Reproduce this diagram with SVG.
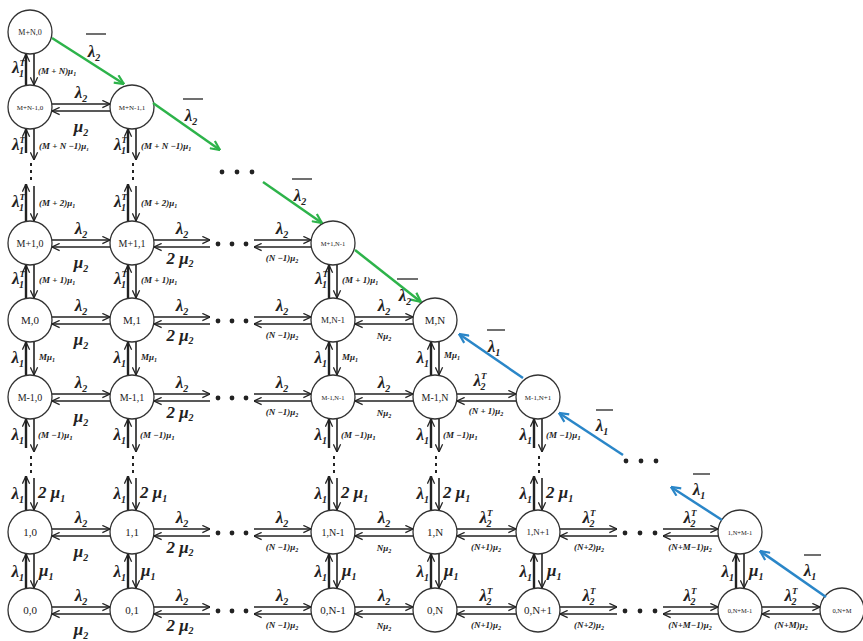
<svg xmlns="http://www.w3.org/2000/svg" width="863" height="641" viewBox="0 0 863 641">
<defs>
<marker id="ah" viewBox="0 0 10 10" refX="9.5" refY="5" markerWidth="9" markerHeight="9" orient="auto" markerUnits="userSpaceOnUse"><path d="M1,1 L9.5,5 L1,9" fill="none" stroke="#222" stroke-width="1.4"/></marker>
<marker id="ag" viewBox="0 0 10 10" refX="9.5" refY="5" markerWidth="11" markerHeight="11" orient="auto" markerUnits="userSpaceOnUse"><path d="M1,1 L9.5,5 L1,9" fill="none" stroke="#2db34a" stroke-width="2"/></marker>
<marker id="ab" viewBox="0 0 10 10" refX="9.5" refY="5" markerWidth="11" markerHeight="11" orient="auto" markerUnits="userSpaceOnUse"><path d="M1,1 L9.5,5 L1,9" fill="none" stroke="#2a86c8" stroke-width="2"/></marker>
</defs>
<style>
.n circle{fill:#fff;stroke:#333;stroke-width:1.3}
.n text{font-family:"Liberation Serif",serif;fill:#222;text-anchor:middle}
.c line{stroke:#222;stroke-width:1.6;marker-end:url(#ah)}
.c line.u{stroke-width:2.4}
.g{stroke:#2db34a;stroke-width:2.5;marker-end:url(#ag)}
.b{stroke:#2a86c8;stroke-width:2.5;marker-end:url(#ab)}
.bar{stroke:#222;stroke-width:1.3}
.t{font-family:"Liberation Serif",serif;font-style:italic;font-weight:bold;fill:#222;font-size:17px;text-anchor:middle}
.t.e{text-anchor:end}
.t.st{text-anchor:start}
.s{font-family:"Liberation Serif",serif;font-style:italic;font-weight:bold;fill:#222;font-size:9px;text-anchor:middle}
.s.st{text-anchor:start}
.sb{font-size:10px}
.sp{font-size:9px}
.d{fill:#222}
</style>

<g id="n_MN_0" class="n"><circle cx="30" cy="32" r="22"/><text x="30" y="35" font-size="8">M+N,0</text></g>
<g id="n_MN1_0" class="n"><circle cx="30" cy="107" r="22"/><text x="30" y="110" font-size="7">M+N-1,0</text></g>
<g id="n_MN1_1" class="n"><circle cx="132" cy="107" r="22"/><text x="132" y="110" font-size="7">M+N-1,1</text></g>
<g id="n_M1_0" class="n"><circle cx="30" cy="243" r="22"/><text x="30" y="247" font-size="10">M+1,0</text></g>
<g id="n_M1_1" class="n"><circle cx="132" cy="243" r="22"/><text x="132" y="247" font-size="10">M+1,1</text></g>
<g id="n_M1_N1" class="n"><circle cx="333" cy="243" r="22"/><text x="333" y="246" font-size="6.5">M+1,N-1</text></g>
<g id="n_M_0" class="n"><circle cx="30" cy="320" r="22"/><text x="30" y="324" font-size="11">M,0</text></g>
<g id="n_M_1" class="n"><circle cx="132" cy="320" r="22"/><text x="132" y="324" font-size="11">M,1</text></g>
<g id="n_M_N1" class="n"><circle cx="333" cy="320" r="22"/><text x="333" y="323" font-size="9">M,N-1</text></g>
<g id="n_M_N" class="n"><circle cx="435" cy="320" r="22"/><text x="435" y="324" font-size="11">M,N</text></g>
<g id="n_Mm1_0" class="n"><circle cx="30" cy="397" r="22"/><text x="30" y="401" font-size="10">M-1,0</text></g>
<g id="n_Mm1_1" class="n"><circle cx="132" cy="397" r="22"/><text x="132" y="401" font-size="10">M-1,1</text></g>
<g id="n_Mm1_N1" class="n"><circle cx="333" cy="397" r="22"/><text x="333" y="400" font-size="6.5">M-1,N-1</text></g>
<g id="n_Mm1_N" class="n"><circle cx="435" cy="397" r="22"/><text x="435" y="401" font-size="10">M-1,N</text></g>
<g id="n_Mm1_Np1" class="n"><circle cx="538" cy="397" r="22"/><text x="538" y="400" font-size="7">M-1,N+1</text></g>
<g id="n_1_0" class="n"><circle cx="30" cy="532" r="22"/><text x="30" y="536" font-size="11">1,0</text></g>
<g id="n_1_1" class="n"><circle cx="132" cy="532" r="22"/><text x="132" y="536" font-size="11">1,1</text></g>
<g id="n_1_N1" class="n"><circle cx="333" cy="532" r="22"/><text x="333" y="536" font-size="10">1,N-1</text></g>
<g id="n_1_N" class="n"><circle cx="435" cy="532" r="22"/><text x="435" y="536" font-size="11">1,N</text></g>
<g id="n_1_Np1" class="n"><circle cx="538" cy="532" r="22"/><text x="538" y="535" font-size="9">1,N+1</text></g>
<g id="n_1_NM1" class="n"><circle cx="740" cy="532" r="22"/><text x="740" y="535" font-size="6.5">1,N+M-1</text></g>
<g id="n_0_0" class="n"><circle cx="30" cy="610" r="22"/><text x="30" y="614" font-size="11">0,0</text></g>
<g id="n_0_1" class="n"><circle cx="132" cy="610" r="22"/><text x="132" y="614" font-size="11">0,1</text></g>
<g id="n_0_N1" class="n"><circle cx="333" cy="610" r="22"/><text x="333" y="614" font-size="11">0,N-1</text></g>
<g id="n_0_N" class="n"><circle cx="435" cy="610" r="22"/><text x="435" y="614" font-size="11">0,N</text></g>
<g id="n_0_Np1" class="n"><circle cx="538" cy="610" r="22"/><text x="538" y="614" font-size="11">0,N+1</text></g>
<g id="n_0_NM1" class="n"><circle cx="740" cy="610" r="22"/><text x="740" y="613" font-size="6.5">0,N+M-1</text></g>
<g id="n_0_NM" class="n"><circle cx="842" cy="610" r="22"/><text x="842" y="613" font-size="6.5">0,N+M</text></g>

<g id="connectors">
<g class="c">
<line x1="52" y1="104" x2="110" y2="104"/><line x1="110" y1="111" x2="52" y2="111"/>
<line x1="52" y1="240" x2="110" y2="240"/><line x1="110" y1="247" x2="52" y2="247"/>
<line x1="154" y1="240" x2="210" y2="240"/><line x1="210" y1="247" x2="154" y2="247"/>
<line x1="254" y1="240" x2="311" y2="240"/><line x1="311" y1="247" x2="254" y2="247"/>
<line x1="52" y1="317" x2="110" y2="317"/><line x1="110" y1="324" x2="52" y2="324"/>
<line x1="154" y1="317" x2="210" y2="317"/><line x1="210" y1="324" x2="154" y2="324"/>
<line x1="254" y1="317" x2="311" y2="317"/><line x1="311" y1="324" x2="254" y2="324"/>
<line x1="355" y1="317" x2="413" y2="317"/><line x1="413" y1="324" x2="355" y2="324"/>
<line x1="52" y1="394" x2="110" y2="394"/><line x1="110" y1="401" x2="52" y2="401"/>
<line x1="154" y1="394" x2="210" y2="394"/><line x1="210" y1="401" x2="154" y2="401"/>
<line x1="254" y1="394" x2="311" y2="394"/><line x1="311" y1="401" x2="254" y2="401"/>
<line x1="355" y1="394" x2="413" y2="394"/><line x1="413" y1="401" x2="355" y2="401"/>
<line x1="457" y1="394" x2="516" y2="394"/><line x1="516" y1="401" x2="457" y2="401"/>
<line x1="52" y1="529" x2="110" y2="529"/><line x1="110" y1="536" x2="52" y2="536"/>
<line x1="154" y1="529" x2="210" y2="529"/><line x1="210" y1="536" x2="154" y2="536"/>
<line x1="254" y1="529" x2="311" y2="529"/><line x1="311" y1="536" x2="254" y2="536"/>
<line x1="355" y1="529" x2="413" y2="529"/><line x1="413" y1="536" x2="355" y2="536"/>
<line x1="457" y1="529" x2="516" y2="529"/><line x1="516" y1="536" x2="457" y2="536"/>
<line x1="560" y1="529" x2="617" y2="529"/><line x1="617" y1="536" x2="560" y2="536"/>
<line x1="663" y1="529" x2="718" y2="529"/><line x1="718" y1="536" x2="663" y2="536"/>
<line x1="52" y1="607" x2="110" y2="607"/><line x1="110" y1="614" x2="52" y2="614"/>
<line x1="154" y1="607" x2="210" y2="607"/><line x1="210" y1="614" x2="154" y2="614"/>
<line x1="254" y1="607" x2="311" y2="607"/><line x1="311" y1="614" x2="254" y2="614"/>
<line x1="355" y1="607" x2="413" y2="607"/><line x1="413" y1="614" x2="355" y2="614"/>
<line x1="457" y1="607" x2="516" y2="607"/><line x1="516" y1="614" x2="457" y2="614"/>
<line x1="560" y1="607" x2="617" y2="607"/><line x1="617" y1="614" x2="560" y2="614"/>
<line x1="663" y1="607" x2="718" y2="607"/><line x1="718" y1="614" x2="663" y2="614"/>
<line x1="762" y1="607" x2="820" y2="607"/><line x1="820" y1="614" x2="762" y2="614"/>

<line class="u" x1="26" y1="85" x2="26" y2="54"/><line x1="34" y1="54" x2="34" y2="85"/>
<line class="u" x1="26" y1="153" x2="26" y2="129"/><line x1="34" y1="129" x2="34" y2="160"/>
<line class="u" x1="128" y1="153" x2="128" y2="129"/><line x1="136" y1="129" x2="136" y2="160"/>
<line class="u" x1="26" y1="221" x2="26" y2="184"/><line x1="34" y1="186" x2="34" y2="221"/>
<line class="u" x1="128" y1="221" x2="128" y2="184"/><line x1="136" y1="186" x2="136" y2="221"/>
<line class="u" x1="26" y1="298" x2="26" y2="265"/><line x1="34" y1="265" x2="34" y2="298"/>
<line class="u" x1="128" y1="298" x2="128" y2="265"/><line x1="136" y1="265" x2="136" y2="298"/>
<line class="u" x1="329" y1="298" x2="329" y2="265"/><line x1="337" y1="265" x2="337" y2="298"/>
<line class="u" x1="26" y1="375" x2="26" y2="342"/><line x1="34" y1="342" x2="34" y2="375"/>
<line class="u" x1="128" y1="375" x2="128" y2="342"/><line x1="136" y1="342" x2="136" y2="375"/>
<line class="u" x1="329" y1="375" x2="329" y2="342"/><line x1="337" y1="342" x2="337" y2="375"/>
<line class="u" x1="431" y1="375" x2="431" y2="342"/><line x1="439" y1="342" x2="439" y2="375"/>
<line class="u" x1="26" y1="448" x2="26" y2="419"/><line x1="34" y1="419" x2="34" y2="452"/>
<line class="u" x1="128" y1="448" x2="128" y2="419"/><line x1="136" y1="419" x2="136" y2="452"/>
<line class="u" x1="329" y1="448" x2="329" y2="419"/><line x1="337" y1="419" x2="337" y2="452"/>
<line class="u" x1="431" y1="448" x2="431" y2="419"/><line x1="439" y1="419" x2="439" y2="452"/>
<line class="u" x1="534" y1="448" x2="534" y2="419"/><line x1="542" y1="419" x2="542" y2="452"/>
<line class="u" x1="26" y1="510" x2="26" y2="476"/><line x1="34" y1="478" x2="34" y2="510"/>
<line class="u" x1="128" y1="510" x2="128" y2="476"/><line x1="136" y1="478" x2="136" y2="510"/>
<line class="u" x1="329" y1="510" x2="329" y2="476"/><line x1="337" y1="478" x2="337" y2="510"/>
<line class="u" x1="431" y1="510" x2="431" y2="476"/><line x1="439" y1="478" x2="439" y2="510"/>
<line class="u" x1="534" y1="510" x2="534" y2="476"/><line x1="542" y1="478" x2="542" y2="510"/>
<line class="u" x1="26" y1="588" x2="26" y2="554"/><line x1="34" y1="554" x2="34" y2="588"/>
<line class="u" x1="128" y1="588" x2="128" y2="554"/><line x1="136" y1="554" x2="136" y2="588"/>
<line class="u" x1="329" y1="588" x2="329" y2="554"/><line x1="337" y1="554" x2="337" y2="588"/>
<line class="u" x1="431" y1="588" x2="431" y2="554"/><line x1="439" y1="554" x2="439" y2="588"/>
<line class="u" x1="534" y1="588" x2="534" y2="554"/><line x1="542" y1="554" x2="542" y2="588"/>
<line class="u" x1="736" y1="588" x2="736" y2="554"/><line x1="744" y1="554" x2="744" y2="588"/>
</g>

<line class="g" x1="52" y1="38" x2="124" y2="84"/>
<line class="g" x1="153" y1="103" x2="220" y2="150"/>
<line class="g" x1="263" y1="182" x2="322" y2="223"/>
<line class="g" x1="355" y1="250" x2="421" y2="302"/>
<line class="b" x1="523" y1="378" x2="459" y2="334"/>
<line class="b" x1="623" y1="455" x2="559" y2="413"/>
<line class="b" x1="722" y1="520" x2="671" y2="487"/>
<line class="b" x1="826" y1="597" x2="760" y2="551"/>

<g class="d">
<circle cx="222" cy="172" r="2.4"/><circle cx="237" cy="172" r="2.4"/><circle cx="252" cy="172" r="2.4"/>
<circle cx="218" cy="244" r="2.4"/><circle cx="232" cy="244" r="2.4"/><circle cx="246" cy="244" r="2.4"/>
<circle cx="218" cy="321" r="2.4"/><circle cx="232" cy="321" r="2.4"/><circle cx="246" cy="321" r="2.4"/>
<circle cx="218" cy="398" r="2.4"/><circle cx="232" cy="398" r="2.4"/><circle cx="246" cy="398" r="2.4"/>
<circle cx="218" cy="533" r="2.4"/><circle cx="232" cy="533" r="2.4"/><circle cx="246" cy="533" r="2.4"/>
<circle cx="218" cy="611" r="2.4"/><circle cx="232" cy="611" r="2.4"/><circle cx="246" cy="611" r="2.4"/>
<circle cx="626" cy="461" r="2.4"/><circle cx="641" cy="461" r="2.4"/><circle cx="656" cy="461" r="2.4"/>
<circle cx="625" cy="533" r="2.4"/><circle cx="640" cy="533" r="2.4"/><circle cx="655" cy="533" r="2.4"/>
<circle cx="625" cy="611" r="2.4"/><circle cx="640" cy="611" r="2.4"/><circle cx="655" cy="611" r="2.4"/>
<rect x="30" y="163" width="2" height="3"/><rect x="30" y="170" width="2" height="3"/><rect x="30" y="177" width="2" height="3"/>
<rect x="132" y="163" width="2" height="3"/><rect x="132" y="170" width="2" height="3"/><rect x="132" y="177" width="2" height="3"/>
<rect x="30" y="456" width="2" height="3"/><rect x="30" y="463" width="2" height="3"/><rect x="30" y="470" width="2" height="3"/>
<rect x="132" y="456" width="2" height="3"/><rect x="132" y="463" width="2" height="3"/><rect x="132" y="470" width="2" height="3"/>
<rect x="333" y="456" width="2" height="3"/><rect x="333" y="463" width="2" height="3"/><rect x="333" y="470" width="2" height="3"/>
<rect x="435" y="456" width="2" height="3"/><rect x="435" y="463" width="2" height="3"/><rect x="435" y="470" width="2" height="3"/>
<rect x="538" y="456" width="2" height="3"/><rect x="538" y="463" width="2" height="3"/><rect x="538" y="470" width="2" height="3"/>
</g>
</g>

<g id="labels">
<line class="bar" x1="86" y1="34" x2="106" y2="34"/><text class="t" x="94" y="57">λ<tspan class="sb" dy="4">2</tspan></text>
<line class="bar" x1="183" y1="99" x2="203" y2="99"/><text class="t" x="191" y="121">λ<tspan class="sb" dy="4">2</tspan></text>
<line class="bar" x1="292" y1="179" x2="312" y2="179"/><text class="t" x="300" y="201">λ<tspan class="sb" dy="4">2</tspan></text>
<line class="bar" x1="397" y1="279" x2="418" y2="279"/><text class="t" x="405" y="301">λ<tspan class="sb" dy="4">2</tspan></text>
<line class="bar" x1="487" y1="330" x2="505" y2="330"/><text class="t" x="494" y="352">λ<tspan class="sb" dy="4">1</tspan></text>
<line class="bar" x1="596" y1="410" x2="613" y2="410"/><text class="t" x="602" y="431">λ<tspan class="sb" dy="4">1</tspan></text>
<line class="bar" x1="693" y1="474" x2="710" y2="474"/><text class="t" x="699" y="495">λ<tspan class="sb" dy="4">1</tspan></text>
<line class="bar" x1="804" y1="555" x2="821" y2="555"/><text class="t" x="810" y="576">λ<tspan class="sb" dy="4">1</tspan></text>

<text class="t" x="81" y="98">λ<tspan class="sb" dy="4">2</tspan></text><text class="t" x="81" y="132">μ<tspan class="sb" dy="4">2</tspan></text>

<text class="t" x="81" y="234">λ<tspan class="sb" dy="4">2</tspan></text><text class="t" x="81" y="268">μ<tspan class="sb" dy="4">2</tspan></text>
<text class="t" x="182" y="234">λ<tspan class="sb" dy="4">2</tspan></text><text class="t" x="180" y="264" font-size="15">2 μ<tspan class="sb" dy="3">2</tspan></text>
<text class="t" x="282" y="234">λ<tspan class="sb" dy="4">2</tspan></text><text class="s" x="282" y="261">(N −1)μ<tspan font-size="6" dy="2">2</tspan></text>

<text class="t" x="81" y="311">λ<tspan class="sb" dy="4">2</tspan></text><text class="t" x="81" y="345">μ<tspan class="sb" dy="4">2</tspan></text>
<text class="t" x="182" y="311">λ<tspan class="sb" dy="4">2</tspan></text><text class="t" x="180" y="341" font-size="15">2 μ<tspan class="sb" dy="3">2</tspan></text>
<text class="t" x="282" y="311">λ<tspan class="sb" dy="4">2</tspan></text><text class="s" x="282" y="338">(N −1)μ<tspan font-size="6" dy="2">2</tspan></text>
<text class="t" x="384" y="311">λ<tspan class="sb" dy="4">2</tspan></text><text class="s" x="384" y="339">Nμ<tspan font-size="6" dy="2">2</tspan></text>

<text class="t" x="81" y="388">λ<tspan class="sb" dy="4">2</tspan></text><text class="t" x="81" y="422">μ<tspan class="sb" dy="4">2</tspan></text>
<text class="t" x="182" y="388">λ<tspan class="sb" dy="4">2</tspan></text><text class="t" x="180" y="418" font-size="15">2 μ<tspan class="sb" dy="3">2</tspan></text>
<text class="t" x="282" y="388">λ<tspan class="sb" dy="4">2</tspan></text><text class="s" x="282" y="415">(N −1)μ<tspan font-size="6" dy="2">2</tspan></text>
<text class="t" x="384" y="388">λ<tspan class="sb" dy="4">2</tspan></text><text class="s" x="384" y="416">Nμ<tspan font-size="6" dy="2">2</tspan></text>
<text class="t" x="480" y="386">λ<tspan class="sp" dy="-7">T</tspan><tspan class="sb" dx="-6" dy="11">2</tspan></text><text class="s" x="486" y="414" font-size="8">(N + 1)μ<tspan font-size="6" dy="2">2</tspan></text>

<text class="t" x="81" y="523">λ<tspan class="sb" dy="4">2</tspan></text><text class="t" x="81" y="557">μ<tspan class="sb" dy="4">2</tspan></text>
<text class="t" x="182" y="523">λ<tspan class="sb" dy="4">2</tspan></text><text class="t" x="180" y="553" font-size="15">2 μ<tspan class="sb" dy="3">2</tspan></text>
<text class="t" x="282" y="523">λ<tspan class="sb" dy="4">2</tspan></text><text class="s" x="282" y="550">(N −1)μ<tspan font-size="6" dy="2">2</tspan></text>
<text class="t" x="384" y="523">λ<tspan class="sb" dy="4">2</tspan></text><text class="s" x="384" y="551">Nμ<tspan font-size="6" dy="2">2</tspan></text>
<text class="t" x="486" y="523">λ<tspan class="sp" dy="-7">T</tspan><tspan class="sb" dx="-6" dy="11">2</tspan></text><text class="s" x="486" y="550">(N+1)μ<tspan font-size="6" dy="2">2</tspan></text>
<text class="t" x="589" y="523">λ<tspan class="sp" dy="-7">T</tspan><tspan class="sb" dx="-6" dy="11">2</tspan></text><text class="s" x="589" y="550">(N+2)μ<tspan font-size="6" dy="2">2</tspan></text>
<text class="t" x="690" y="523">λ<tspan class="sp" dy="-7">T</tspan><tspan class="sb" dx="-6" dy="11">2</tspan></text><text class="s" x="690" y="550" font-size="8">(N+M−1)μ<tspan font-size="6" dy="2">2</tspan></text>

<text class="t" x="81" y="601">λ<tspan class="sb" dy="4">2</tspan></text><text class="t" x="81" y="635">μ<tspan class="sb" dy="4">2</tspan></text>
<text class="t" x="182" y="601">λ<tspan class="sb" dy="4">2</tspan></text><text class="t" x="180" y="631" font-size="15">2 μ<tspan class="sb" dy="3">2</tspan></text>
<text class="t" x="282" y="601">λ<tspan class="sb" dy="4">2</tspan></text><text class="s" x="282" y="628">(N −1)μ<tspan font-size="6" dy="2">2</tspan></text>
<text class="t" x="384" y="601">λ<tspan class="sb" dy="4">2</tspan></text><text class="s" x="384" y="629">Nμ<tspan font-size="6" dy="2">2</tspan></text>
<text class="t" x="486" y="601">λ<tspan class="sp" dy="-7">T</tspan><tspan class="sb" dx="-6" dy="11">2</tspan></text><text class="s" x="486" y="628">(N+1)μ<tspan font-size="6" dy="2">2</tspan></text>
<text class="t" x="589" y="601">λ<tspan class="sp" dy="-7">T</tspan><tspan class="sb" dx="-6" dy="11">2</tspan></text><text class="s" x="589" y="628">(N+2)μ<tspan font-size="6" dy="2">2</tspan></text>
<text class="t" x="690" y="601">λ<tspan class="sp" dy="-7">T</tspan><tspan class="sb" dx="-6" dy="11">2</tspan></text><text class="s" x="690" y="628" font-size="8">(N+M−1)μ<tspan font-size="6" dy="2">2</tspan></text>
<text class="t" x="791" y="601">λ<tspan class="sp" dy="-7">T</tspan><tspan class="sb" dx="-6" dy="11">2</tspan></text><text class="s" x="791" y="628" font-size="8">(N+M)μ<tspan font-size="6" dy="2">2</tspan></text>

<text class="t e" x="25" y="73">λ<tspan class="sp" dy="-7">T</tspan><tspan class="sb" dx="-6" dy="11">1</tspan></text><text class="s st" x="38" y="74">(M + N)μ<tspan font-size="6" dy="2">1</tspan></text>

<text class="t e" x="25" y="150">λ<tspan class="sp" dy="-7">T</tspan><tspan class="sb" dx="-6" dy="11">1</tspan></text><text class="s st" x="39" y="149" font-size="7">(M + N −1)μ<tspan font-size="5" dy="2">1</tspan></text>
<text class="t e" x="127" y="150">λ<tspan class="sp" dy="-7">T</tspan><tspan class="sb" dx="-6" dy="11">1</tspan></text><text class="s st" x="141" y="149">(M + N −1)μ<tspan font-size="6" dy="2">1</tspan></text>

<text class="t e" x="25" y="207">λ<tspan class="sp" dy="-7">T</tspan><tspan class="sb" dx="-6" dy="11">1</tspan></text><text class="s st" x="39" y="206">(M + 2)μ<tspan font-size="6" dy="2">1</tspan></text>
<text class="t e" x="127" y="207">λ<tspan class="sp" dy="-7">T</tspan><tspan class="sb" dx="-6" dy="11">1</tspan></text><text class="s st" x="141" y="206">(M + 2)μ<tspan font-size="6" dy="2">1</tspan></text>

<text class="t e" x="25" y="284">λ<tspan class="sp" dy="-7">T</tspan><tspan class="sb" dx="-6" dy="11">1</tspan></text><text class="s st" x="39" y="283">(M + 1)μ<tspan font-size="6" dy="2">1</tspan></text>
<text class="t e" x="127" y="284">λ<tspan class="sp" dy="-7">T</tspan><tspan class="sb" dx="-6" dy="11">1</tspan></text><text class="s st" x="141" y="283">(M + 1)μ<tspan font-size="6" dy="2">1</tspan></text>
<text class="t e" x="328" y="284">λ<tspan class="sp" dy="-7">T</tspan><tspan class="sb" dx="-6" dy="11">1</tspan></text><text class="s st" x="342" y="283">(M + 1)μ<tspan font-size="6" dy="2">1</tspan></text>

<text class="t e" x="24" y="363">λ<tspan class="sb" dy="4">1</tspan></text><text class="s st" x="39" y="360">Mμ<tspan font-size="6" dy="2">1</tspan></text>
<text class="t e" x="126" y="363">λ<tspan class="sb" dy="4">1</tspan></text><text class="s st" x="141" y="360">Mμ<tspan font-size="6" dy="2">1</tspan></text>
<text class="t e" x="327" y="363">λ<tspan class="sb" dy="4">1</tspan></text><text class="s st" x="342" y="360">Mμ<tspan font-size="6" dy="2">1</tspan></text>
<text class="t e" x="429" y="363">λ<tspan class="sb" dy="4">1</tspan></text><text class="s st" x="444" y="358">Mμ<tspan font-size="6" dy="2">1</tspan></text>

<text class="t e" x="24" y="440">λ<tspan class="sb" dy="4">1</tspan></text><text class="s st" x="38" y="438" font-size="11">(M −1)μ<tspan font-size="7" dy="2">1</tspan></text>
<text class="t e" x="126" y="440">λ<tspan class="sb" dy="4">1</tspan></text><text class="s st" x="140" y="438" font-size="11">(M −1)μ<tspan font-size="7" dy="2">1</tspan></text>
<text class="t e" x="327" y="440">λ<tspan class="sb" dy="4">1</tspan></text><text class="s st" x="341" y="438" font-size="11">(M −1)μ<tspan font-size="7" dy="2">1</tspan></text>
<text class="t e" x="429" y="440">λ<tspan class="sb" dy="4">1</tspan></text><text class="s st" x="443" y="438" font-size="11">(M −1)μ<tspan font-size="7" dy="2">1</tspan></text>
<text class="t e" x="532" y="440">λ<tspan class="sb" dy="4">1</tspan></text><text class="s st" x="546" y="438" font-size="11">(M −1)μ<tspan font-size="7" dy="2">1</tspan></text>

<text class="t e" x="24" y="499">λ<tspan class="sb" dy="4">1</tspan></text><text class="t st" x="38" y="498" font-size="16">2 μ<tspan class="sb" dy="4">1</tspan></text>
<text class="t e" x="126" y="499">λ<tspan class="sb" dy="4">1</tspan></text><text class="t st" x="140" y="498" font-size="16">2 μ<tspan class="sb" dy="4">1</tspan></text>
<text class="t e" x="327" y="499">λ<tspan class="sb" dy="4">1</tspan></text><text class="t st" x="341" y="498" font-size="16">2 μ<tspan class="sb" dy="4">1</tspan></text>
<text class="t e" x="429" y="499">λ<tspan class="sb" dy="4">1</tspan></text><text class="t st" x="443" y="498" font-size="16">2 μ<tspan class="sb" dy="4">1</tspan></text>
<text class="t e" x="532" y="499">λ<tspan class="sb" dy="4">1</tspan></text><text class="t st" x="546" y="498" font-size="16">2 μ<tspan class="sb" dy="4">1</tspan></text>

<text class="t e" x="24" y="577">λ<tspan class="sb" dy="4">1</tspan></text><text class="t st" x="39" y="576" font-size="16">μ<tspan class="sb" dy="4">1</tspan></text>
<text class="t e" x="126" y="577">λ<tspan class="sb" dy="4">1</tspan></text><text class="t st" x="141" y="576" font-size="16">μ<tspan class="sb" dy="4">1</tspan></text>
<text class="t e" x="327" y="577">λ<tspan class="sb" dy="4">1</tspan></text><text class="t st" x="342" y="576" font-size="16">μ<tspan class="sb" dy="4">1</tspan></text>
<text class="t e" x="429" y="577">λ<tspan class="sb" dy="4">1</tspan></text><text class="t st" x="444" y="576" font-size="16">μ<tspan class="sb" dy="4">1</tspan></text>
<text class="t e" x="532" y="577">λ<tspan class="sb" dy="4">1</tspan></text><text class="t st" x="547" y="576" font-size="16">μ<tspan class="sb" dy="4">1</tspan></text>
<text class="t e" x="734" y="577">λ<tspan class="sb" dy="4">1</tspan></text><text class="t st" x="749" y="576" font-size="16">μ<tspan class="sb" dy="4">1</tspan></text>
</g>
</svg>
